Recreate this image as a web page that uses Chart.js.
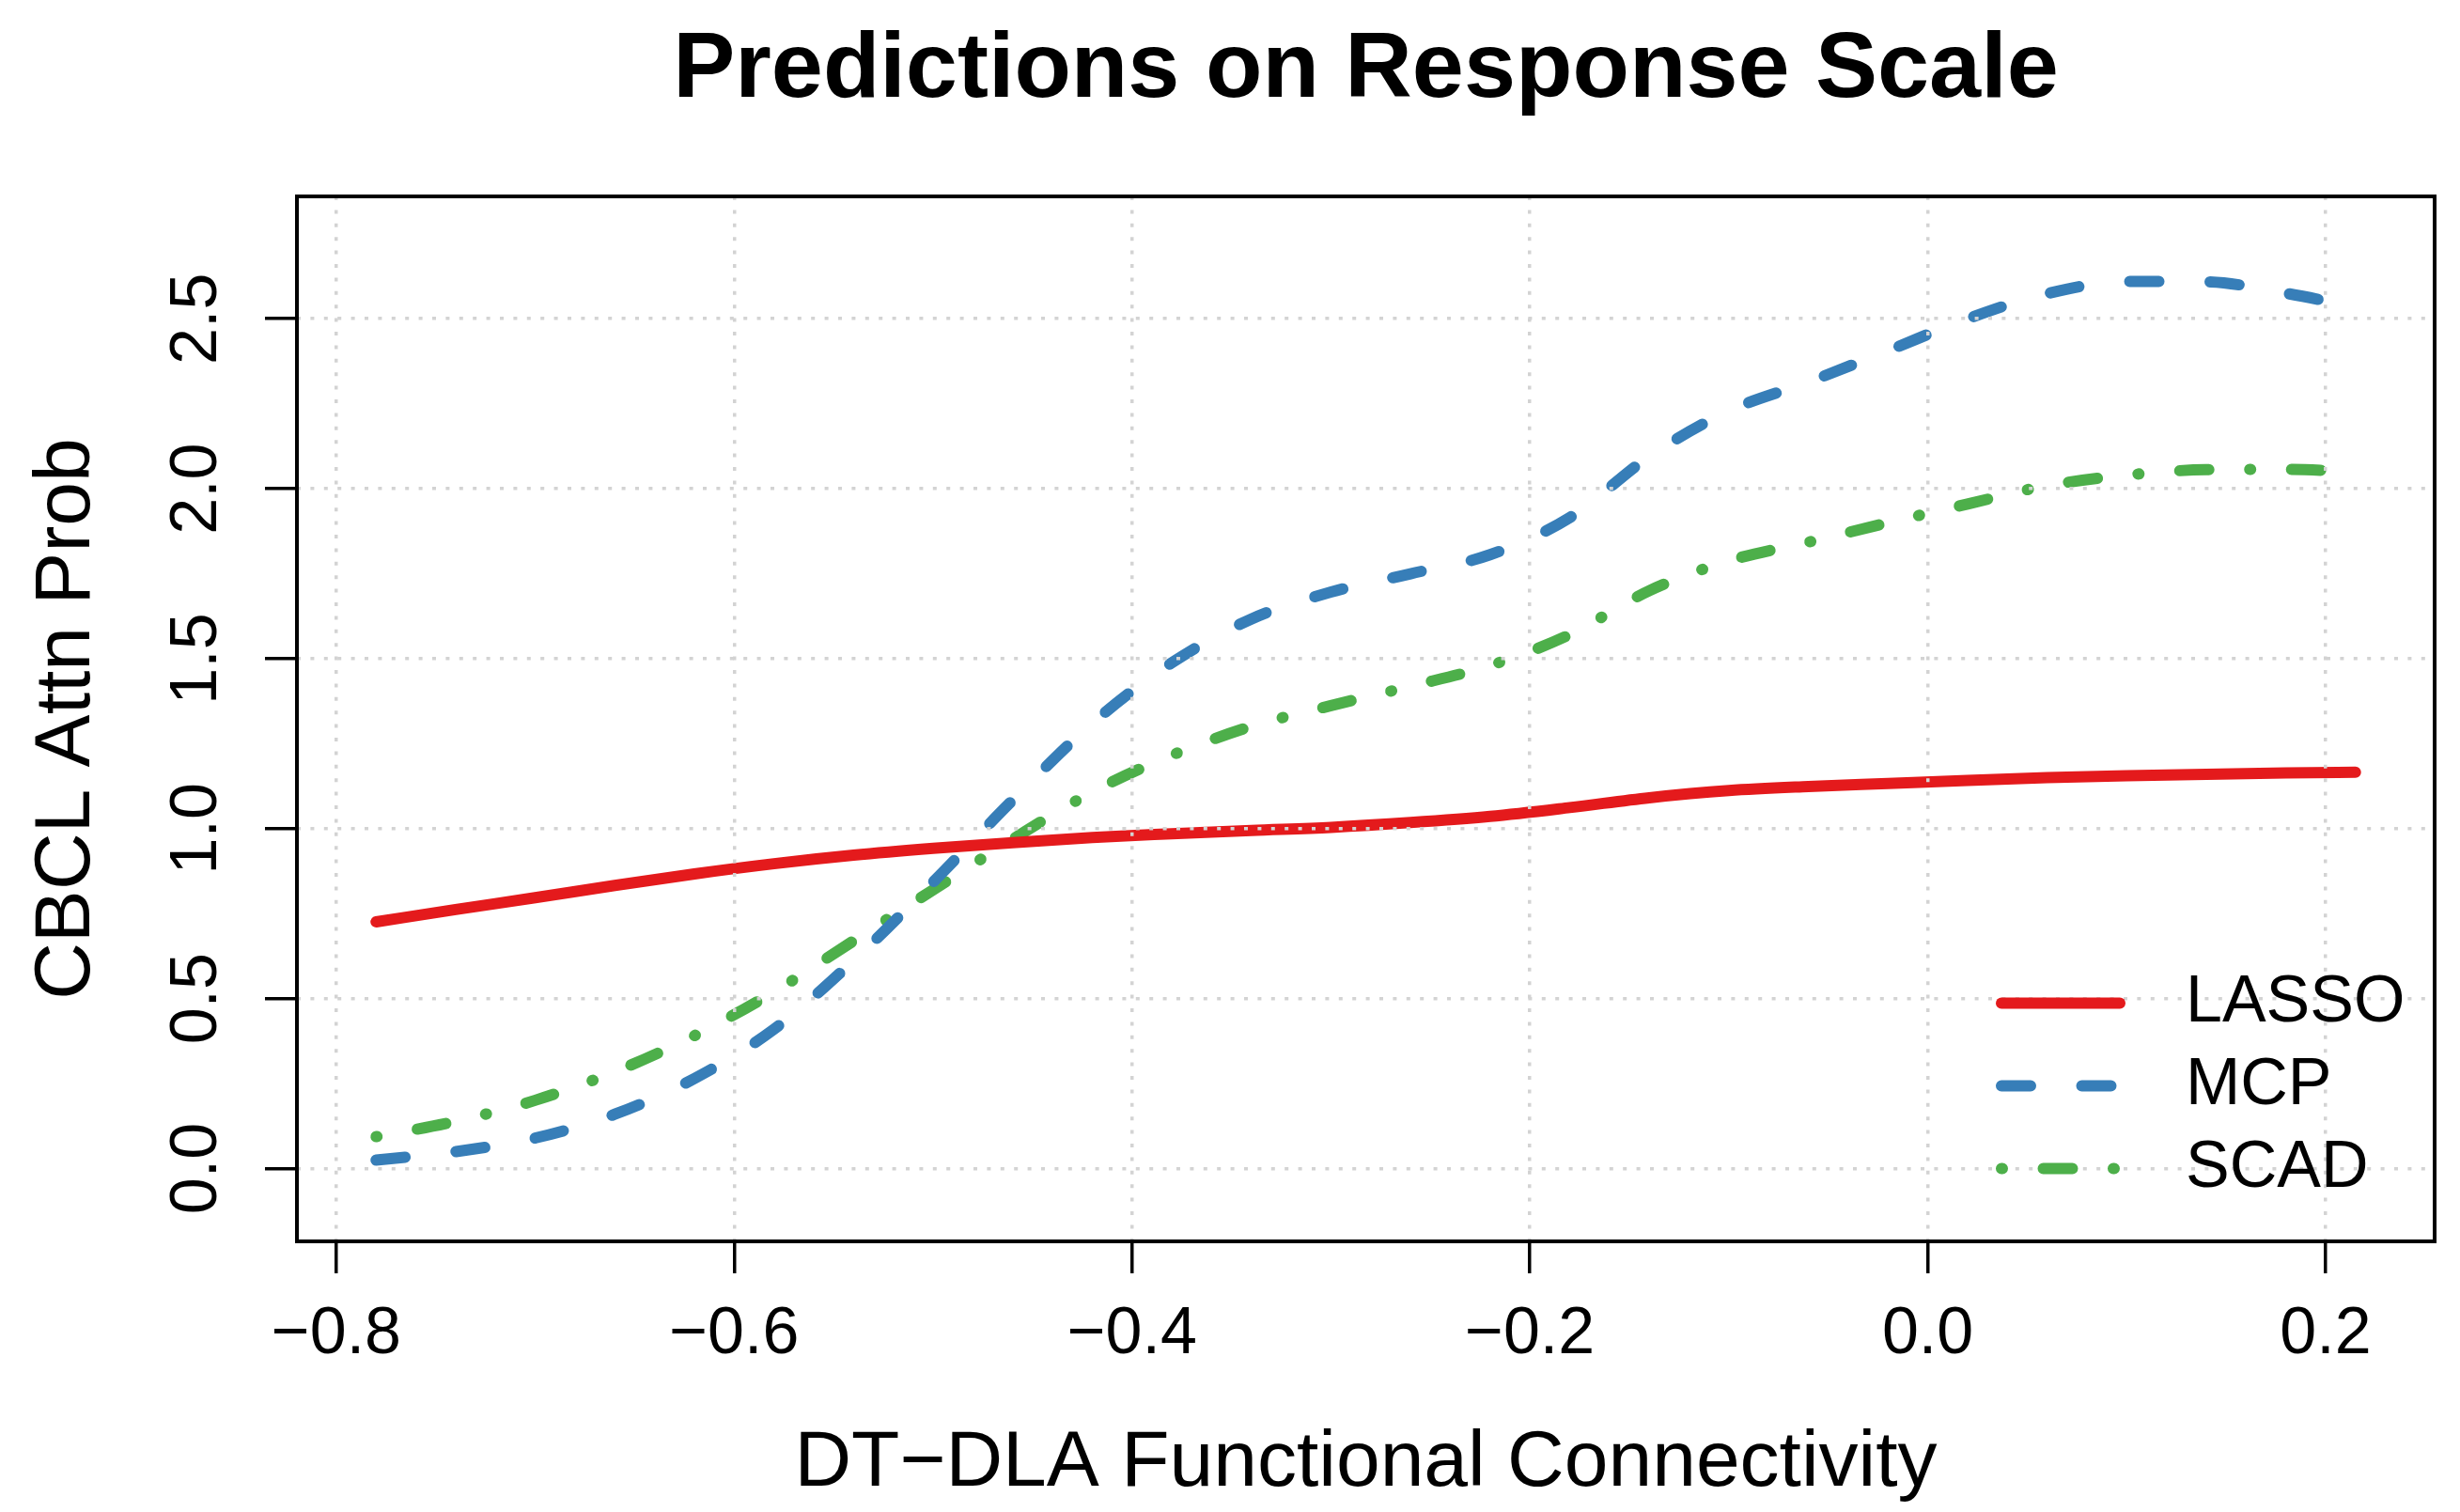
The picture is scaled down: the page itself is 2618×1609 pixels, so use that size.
<!DOCTYPE html>
<html>
<head>
<meta charset="utf-8">
<script src="https://cdn.jsdelivr.net/npm/chart.js@4.4.1/dist/chart.umd.min.js"></script>
<style>
  html,body{margin:0;padding:0;background:#fff;overflow:hidden;}
  canvas{display:block;}
</style>
</head>
<body>
<canvas id="predChart" width="2618" height="1609"></canvas>
<script>
// values
const xVals = [-0.78,-0.74,-0.70,-0.66,-0.62,-0.58,-0.54,-0.50,-0.46,-0.42,-0.38,-0.34,-0.30,
               -0.26,-0.22,-0.18,-0.14,-0.10,-0.06,-0.02,0.02,0.06,0.10,0.14,0.18,0.215];
const lasso = [0.726,0.762,0.797,0.833,0.867,0.897,0.922,0.942,0.959,0.974,0.985,0.995,1.004,
               1.018,1.036,1.062,1.091,1.112,1.124,1.133,1.142,1.150,1.156,1.160,1.164,1.166];
const mcp   = [0.025,0.050,0.090,0.160,0.265,0.410,0.612,0.843,1.084,1.310,1.488,1.617,1.696,
               1.750,1.806,1.915,2.095,2.229,2.314,2.406,2.500,2.574,2.610,2.609,2.575,2.535];
const scad  = [0.094,0.139,0.201,0.285,0.391,0.520,0.670,0.820,0.969,1.108,1.216,1.301,1.362,
               1.419,1.480,1.571,1.700,1.788,1.843,1.900,1.955,2.009,2.040,2.056,2.057,2.050];
const seriesNames = ['LASSO','MCP','SCAD'];
const xTickVals = [-0.8,-0.6,-0.4,-0.2,0.0,0.2];
const xTickLabels = ['\u22120.8','\u22120.6','\u22120.4','\u22120.2','0.0','0.2'];
const yTickVals = [0.0,0.5,1.0,1.5,2.0,2.5];
const yTickLabels = ['0.0','0.5','1.0','1.5','2.0','2.5'];

const FONT = '"Liberation Sans", Arial, Helvetica, sans-serif';
const LW = 12;

function pts(arr){ return xVals.map((x,i)=>({x:x, y:arr[i]})); }
function tickLabel(vals, labels){
  return v => { const i = vals.findIndex(t => Math.abs(t - v) < 1e-9); return i < 0 ? '' : labels[i]; };
}

const styles = [
  {color:'#E41A1C', dash:[]},
  {color:'#377EB8', dash:[31,54.5]},
  {color:'#4DAF4A', dash:[1,43.5,31,43.5]}
];
const datasets = [lasso, mcp, scad].map((arr,i)=>({
  label: seriesNames[i],
  data: pts(arr),
  borderColor: styles[i].color,
  borderDash: styles[i].dash,
  borderWidth: LW,
  borderCapStyle: 'round',
  borderJoinStyle: 'round',
  pointRadius: 0,
  fill: false,
  cubicInterpolationMode: 'monotone'
}));

// box around the plot region + legend in the bottom right corner
const framePlugin = {
  id: 'frame',
  afterDraw(c){
    const a = c.chartArea, ctx = c.ctx;
    ctx.save();
    ctx.strokeStyle = '#000';
    ctx.lineWidth = 4;
    ctx.strokeRect(a.left, a.top, a.right - a.left, a.bottom - a.top);

    ctx.font = '70px ' + FONT;
    ctx.textBaseline = 'middle';
    ctx.textAlign = 'left';
    c.data.datasets.forEach((ds,i)=>{
      const y = a.bottom - 253.5 + i*88;
      ctx.beginPath();
      ctx.setLineDash(ds.borderDash);
      ctx.lineCap = 'round';
      ctx.lineWidth = LW;
      ctx.strokeStyle = ds.borderColor;
      ctx.moveTo(a.right - 461, y);
      ctx.lineTo(a.right - 335, y);
      ctx.stroke();
      ctx.setLineDash([]);
      ctx.fillStyle = '#000';
      ctx.fillText(ds.label, a.right - 265, y);
    });
    ctx.restore();
  }
};

const gridOpts = {
  color:'#d3d3d3', lineWidth:3.5, z:1,
  drawTicks:true, tickLength:34, tickColor:'#000', tickWidth:3.5
};

new Chart(document.getElementById('predChart'), {
  type:'line',
  data:{datasets:datasets},
  plugins:[framePlugin],
  options:{
    responsive:false,
    devicePixelRatio:1,
    animation:false,
    layout:{padding:{left:0,right:27,top:0,bottom:0}},
    plugins:{
      legend:{display:false},
      tooltip:{enabled:false},
      title:{
        display:true,
        fullSize:false,
        text:'Predictions on Response Scale',
        color:'#000',
        font:{family:FONT, size:99, weight:'bold'},
        padding:{top:16.6, bottom:73.6}
      }
    },
    scales:{
      x:{
        type:'linear',
        min:-0.8198, max:0.2548,
        afterBuildTicks: s => { s.ticks = xTickVals.map(v=>({value:v})); },
        afterFit: s => { s.height = 288; },
        grid: gridOpts,
        border:{display:false, dash:[4,10.4]},
        ticks:{
          autoSkip:false, maxRotation:0, minRotation:0, padding:23.5,
          color:'#000', font:{family:FONT, size:70},
          callback: tickLabel(xTickVals, xTickLabels)
        },
        title:{
          display:true, text:'DT\u2212DLA Functional Connectivity', color:'#000',
          font:{family:FONT, size:84}, padding:{top:0, bottom:1}
        }
      },
      y:{
        type:'linear',
        min:-0.214, max:2.86,
        afterBuildTicks: s => { s.ticks = yTickVals.map(v=>({value:v})); },
        afterFit: s => { s.width = 316; },
        grid: gridOpts,
        border:{display:false, dash:[4,10.4]},
        ticks:{
          autoSkip:false, minRotation:90, maxRotation:90, crossAlign:'center', padding:22.8,
          color:'#000', font:{family:FONT, size:70},
          callback: tickLabel(yTickVals, yTickLabels)
        },
        title:{
          display:true, text:'CBCL Attn Prob', color:'#000',
          font:{family:FONT, size:84}, padding:{top:21, bottom:0}
        }
      }
    }
  }
});
</script>
</body>
</html>
